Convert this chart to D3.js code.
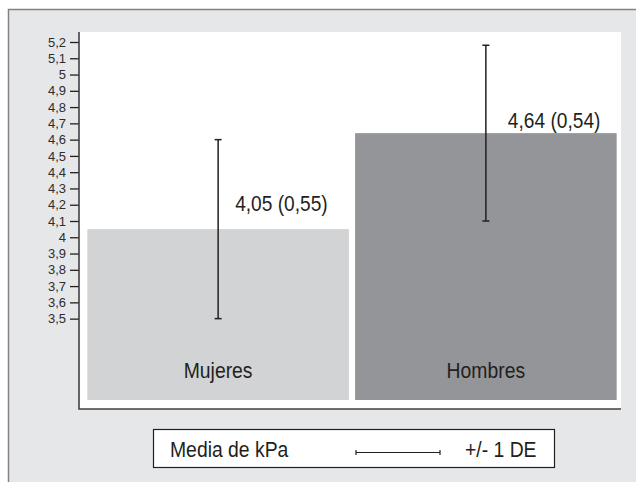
<!DOCTYPE html>
<html>
<head>
<meta charset="utf-8">
<script src="https://cdn.jsdelivr.net/npm/d3@7"></script>
<style>
  html, body { margin: 0; padding: 0; background: #ffffff; }
  svg { display: block; font-family: "Liberation Sans", Arial, sans-serif; }
</style>
</head>
<body>
<svg id="chart" width="636" height="482"></svg>
<script>
// ---- data ----
const categories = ["Mujeres", "Hombres"];
const means = [4.05, 4.64];
const sds = [0.55, 0.54];
const valueLabels = ["4,05 (0,55)", "4,64 (0,54)"];
const barColors = ["#d1d3d4", "#939598"];
const tickValues = [3.5, 3.6, 3.7, 3.8, 3.9, 4.0, 4.1, 4.2, 4.3, 4.4, 4.5, 4.6, 4.7, 4.8, 4.9, 5.0, 5.1, 5.2];
const tickLabels = ["3,5", "3,6", "3,7", "3,8", "3,9", "4", "4,1", "4,2", "4,3", "4,4", "4,5", "4,6", "4,7", "4,8", "4,9", "5", "5,1", "5,2"];
const legendLabels = ["Media de kPa", "+/- 1 DE"];
const baseValue = 3.0;

// ---- layout ----
const svg = d3.select("#chart");
const dark = "#231f20";
const plot = { left: 79, right: 621, top: 32, bottom: 409 };
const bigFont = 21.5;
const condense = 0.9;

function narrow(sel, f) {
  sel.each(function () {
    const w = this.getComputedTextLength();
    d3.select(this).attr("textLength", w * f).attr("lengthAdjust", "spacingAndGlyphs");
  });
}

// outer panel
svg.append("rect")
  .attr("x", 8.5).attr("y", 9.5).attr("width", 700).attr("height", 520)
  .attr("fill", "#e6e7e8").attr("stroke", "#808285").attr("stroke-width", 1.5);

// plot area
svg.append("rect")
  .attr("x", plot.left).attr("y", plot.top)
  .attr("width", plot.right - plot.left).attr("height", plot.bottom - plot.top)
  .attr("fill", "#ffffff");

const y = d3.scaleLinear().domain([3.0, 5.2]).range([400, 42]);
const x = d3.scaleBand().domain(categories).range([86, 618]).paddingInner(0.023).paddingOuter(0.005);

// bars
svg.selectAll("rect.bar").data(categories).enter().append("rect")
  .attr("class", "bar")
  .attr("x", d => x(d))
  .attr("width", x.bandwidth())
  .attr("y", (d, i) => y(means[i]))
  .attr("height", (d, i) => y(baseValue) - y(means[i]))
  .attr("fill", (d, i) => barColors[i]);

// category labels inside bars
svg.selectAll("text.cat").data(categories).enter().append("text")
  .attr("class", "cat")
  .attr("x", d => x(d) + x.bandwidth() / 2)
  .attr("y", y(baseValue) - 22)
  .attr("text-anchor", "middle")
  .attr("font-size", bigFont)
  .attr("fill", dark)
  .text(d => d)
  .call(narrow, condense);

// error bars
const capW = 3.5;
const eb = svg.selectAll("g.eb").data(categories).enter().append("g").attr("class", "eb")
  .attr("stroke", dark).attr("stroke-width", 1.5);
eb.append("line")
  .attr("x1", d => x(d) + x.bandwidth() / 2).attr("x2", d => x(d) + x.bandwidth() / 2)
  .attr("y1", (d, i) => y(means[i] - sds[i])).attr("y2", (d, i) => y(means[i] + sds[i]));
eb.append("line")
  .attr("x1", d => x(d) + x.bandwidth() / 2 - capW).attr("x2", d => x(d) + x.bandwidth() / 2 + capW)
  .attr("y1", (d, i) => y(means[i] + sds[i])).attr("y2", (d, i) => y(means[i] + sds[i]));
eb.append("line")
  .attr("x1", d => x(d) + x.bandwidth() / 2 - capW).attr("x2", d => x(d) + x.bandwidth() / 2 + capW)
  .attr("y1", (d, i) => y(means[i] - sds[i])).attr("y2", (d, i) => y(means[i] - sds[i]));

// value labels
const labelDx = [17, 22];
const labelDy = [18, 5];
svg.selectAll("text.val").data(categories).enter().append("text")
  .attr("class", "val")
  .attr("x", (d, i) => x(d) + x.bandwidth() / 2 + labelDx[i])
  .attr("y", (d, i) => y(means[i]) - labelDy[i])
  .attr("font-size", bigFont)
  .attr("fill", dark)
  .text((d, i) => valueLabels[i])
  .call(narrow, 0.89);

// y axis
const axis = d3.axisLeft(y).tickValues(tickValues)
  .tickFormat((d, i) => tickLabels[i]).tickSize(9).tickPadding(4);
const gAxis = svg.append("g").attr("transform", `translate(${plot.left},0)`).call(axis);
gAxis.select(".domain").remove();
gAxis.selectAll(".tick line").attr("stroke", dark).attr("stroke-width", 1.3);
gAxis.selectAll(".tick text").attr("font-size", 13).attr("fill", "#2e2c2d")
  .attr("font-family", "'Liberation Sans', Arial, sans-serif");

// axis frame lines (left + bottom)
svg.append("path")
  .attr("d", `M${plot.left},${plot.top}V${plot.bottom}H${plot.right}`)
  .attr("fill", "none").attr("stroke", "#414042").attr("stroke-width", 1.6);

// legend
const lg = svg.append("g");
lg.append("rect").attr("x", 153.5).attr("y", 429.5).attr("width", 401).attr("height", 38)
  .attr("fill", "#ffffff").attr("stroke", dark).attr("stroke-width", 1.2);
lg.append("text").attr("x", 170).attr("y", 456.5).attr("font-size", bigFont).attr("fill", dark)
  .text(legendLabels[0]).call(narrow, condense);
lg.append("line").attr("x1", 356).attr("x2", 440).attr("y1", 452.5).attr("y2", 452.5)
  .attr("stroke", dark).attr("stroke-width", 1.2);
lg.append("line").attr("x1", 356).attr("x2", 356).attr("y1", 450).attr("y2", 455)
  .attr("stroke", dark).attr("stroke-width", 1.2);
lg.append("line").attr("x1", 440).attr("x2", 440).attr("y1", 450).attr("y2", 455)
  .attr("stroke", dark).attr("stroke-width", 1.2);
lg.append("text").attr("x", 465).attr("y", 456.5).attr("font-size", bigFont).attr("fill", dark)
  .text(legendLabels[1]).call(narrow, condense);
</script>
</body>
</html>
